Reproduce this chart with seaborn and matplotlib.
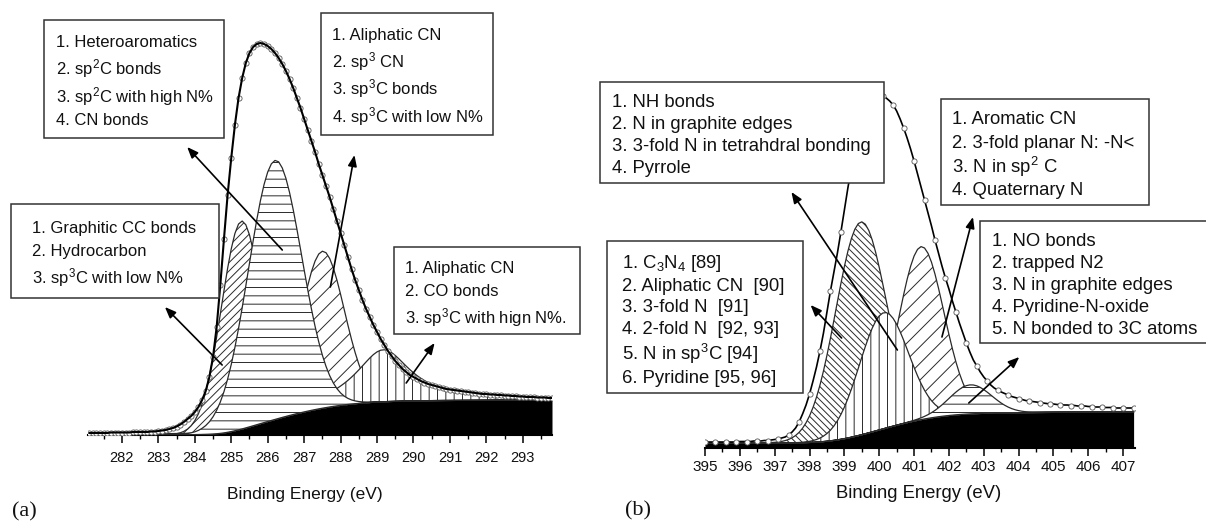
import numpy as np
import pandas as pd
import matplotlib
matplotlib.use("Agg")
import matplotlib.pyplot as plt
from matplotlib.patches import Rectangle
from matplotlib.ticker import MultipleLocator
import seaborn as sns

W, H = 1206, 522

sns.set_theme(style="white")
SANS = "Liberation Sans"
SERIF = "Liberation Serif"
plt.rcParams["font.family"] = [SANS, "DejaVu Sans"]
plt.rcParams["mathtext.default"] = "regular"
plt.rcParams["hatch.linewidth"] = 0.7
plt.rcParams["hatch.color"] = "#333333"

# ---------------- (a) C 1s spectrum ----------------
be_a = np.round(np.arange(281.1, 293.85, 0.1), 1)
counts_a = [
    2.0, 2.0, 2.0, 2.0, 2.0, 2.0, 2.5, 2.5, 2.5,
    2.5, 2.5, 2.5, 3.0, 3.0, 3.0, 3.0, 3.0, 3.5, 3.5,
    4.0, 4.5, 5.0, 6.0, 7.0, 8.5, 10.5, 13, 16, 19,
    23, 28, 35, 44, 58, 78, 108, 150, 196, 240,
    277, 310, 337, 357, 372, 382, 388, 391, 392, 391,
    389, 386, 382, 377, 371, 364, 356, 347, 337, 327,
    316, 305, 294, 283, 271, 260, 249, 238, 226, 214,
    202, 190, 178, 166, 155, 145, 135, 126, 118, 110,
    103, 96, 90, 84, 79, 74, 70, 66, 63, 60,
    58, 56, 54, 52.5, 51, 50, 49, 48, 47, 46,
    45.5, 45, 44.5, 44, 43.5, 43, 42.5, 42, 41.5, 41,
    41, 40.5, 40.5, 40, 40, 39.5, 39.5, 39, 39, 38.5,
    38.5, 38, 38, 38, 37.5, 37.5, 37.5, 37, 37,
]
bg_ends_a = (0.0, 35.0)
# fitted components: graphitic CC, main C-N/sp2, sp3 shoulder, high-BE tail
centers_a = [285.28, 286.20, 287.50, 289.17]
heights_a = [208, 259, 157, 52]
widths_a = [0.55, 0.73, 0.60, 0.90]
shapes_a = ["gauss", "gauss", "gauss", "lorentz"]
hatches_a = ["////", "--", "//", "||"]
order_a = [2, 0, 3, 1]

# ---------------- (b) N 1s spectrum ----------------
be_b = np.round(np.arange(395.0, 407.35, 0.1), 1)
counts_b = [
    6, 6, 6, 6, 6, 6, 6, 6, 6, 6,
    6.5, 6.5, 6.5, 6.5, 7, 7, 7, 7.5, 7.5, 8,
    8.5, 9, 10, 11, 13, 16, 20, 26, 34, 43,
    54, 67, 81, 97, 115, 136, 157, 176, 195, 216,
    238, 260, 280, 298, 313, 326, 336, 343, 348, 351,
    352, 352, 350, 347, 343, 337, 329, 320, 310, 299,
    287, 274, 261, 248, 235, 222, 208, 195, 182, 170,
    159, 147, 136, 125, 115, 105, 96, 88, 82, 76,
    71, 67, 63, 60, 58, 56, 54.5, 53, 51.5, 50.5,
    49.5, 48.5, 47.5, 47, 46.5, 46, 45.5, 45, 44.5, 44,
    44, 43.5, 43.5, 43, 43, 42.5, 42.5, 42, 42, 42,
    41.5, 41.5, 41, 41, 41, 40.5, 40.5, 40.5, 40, 40,
    40, 40, 40, 40,
]
bg_ends_b = (5.0, 36.0)
centers_b = [399.47, 400.13, 401.20, 402.62]
heights_b = [213, 116, 173, 29]
widths_b = [0.72, 0.70, 0.65, 0.60]
shapes_b = ["gauss", "gauss", "gauss", "gauss"]
hatches_b = ["\\\\\\\\\\", "||", "//", "--"]
order_b = [0, 2, 1, 3]


def shirley(y, lo, hi, n_iter=40):
    """Iterative Shirley background between fixed end levels."""
    y = np.asarray(y, float)
    bg = np.full_like(y, lo)
    for _ in range(n_iter):
        net = np.clip(y - bg, 0, None)
        cum = np.concatenate([[0.0], np.cumsum(0.5 * (net[1:] + net[:-1]))])
        bg = lo + (hi - lo) * cum / cum[-1]
    return bg


def profile(e, c, h, w, shape):
    if shape == "lorentz":
        return h / (1.0 + ((e - c) / w) ** 2)
    return h * np.exp(-0.5 * ((e - c) / w) ** 2)


fig = plt.figure(figsize=(W / 100, H / 100), dpi=100)
fig.patch.set_facecolor("white")


def fx(x):
    return x / W


def fy(y):
    return 1 - y / H


ax_a = fig.add_axes([fx(88), fy(435), (552 - 88) / W, (435 - 5) / H])
ax_b = fig.add_axes([fx(705), fy(448), (1135 - 705) / W, (448 - 5) / H])


def draw_spectrum(ax, be, counts, bg_ends, centers, heights, widths, shapes,
                  hatches, order, line_w, dot_size, dot_step, dots_on_top):
    counts = np.asarray(counts, float)
    bg = shirley(counts, *bg_ends)
    ax.fill_between(be, 0, bg, color="black", lw=0, zorder=1)
    for k, i in enumerate(order):
        comp = profile(be, centers[i], heights[i], widths[i], shapes[i])
        ax.fill_between(be, bg, bg + comp, facecolor="white", edgecolor="#2a2a2a",
                        hatch=hatches[i], lw=0.9, zorder=2 + k)
    df = pd.DataFrame({"be": be, "counts": counts})
    sns.lineplot(data=df, x="be", y="counts", ax=ax, color="black", lw=line_w,
                 zorder=8, estimator=None, sort=True)
    sns.scatterplot(data=df.iloc[::dot_step], x="be", y="counts", ax=ax, s=dot_size,
                    marker="o", color="white", edgecolor="#555555", linewidth=0.6,
                    zorder=9 if dots_on_top else 7)


draw_spectrum(ax_a, be_a, counts_a, bg_ends_a, centers_a, heights_a, widths_a,
              shapes_a, hatches_a, order_a, 1.5, 14, 1, False)
draw_spectrum(ax_b, be_b, counts_b, bg_ends_b, centers_b, heights_b, widths_b,
              shapes_b, hatches_b, order_b, 1.2, 14, 3, True)

ax_a.set_xlim(281.07, 293.8)
ax_a.set_ylim(0, 430)
ax_b.set_xlim(395.0, 407.34)
ax_b.set_ylim(0, 443)

for ax, size, pad in ((ax_a, 10.5, 5.5), (ax_b, 11, 2.5)):
    ax.set_facecolor("none")
    for side in ("left", "right", "top"):
        ax.spines[side].set_visible(False)
    ax.spines["bottom"].set_linewidth(1.5)
    ax.spines["bottom"].set_color("black")
    ax.set_yticks([])
    ax.set_ylabel("")
    ax.xaxis.set_major_locator(MultipleLocator(1))
    ax.xaxis.set_minor_locator(MultipleLocator(0.5))
    ax.tick_params(axis="x", which="major", bottom=True, direction="out", length=5.8,
                   width=1.1, color="black", pad=pad, labelsize=size,
                   labelcolor="#111111")
    ax.tick_params(axis="x", which="minor", bottom=True, direction="out", length=3.2,
                   width=1.0, color="black")

ax_a.set_xlabel("Binding Energy (eV)", fontsize=12.5, color="#111111")
ax_a.xaxis.set_label_coords((305 - 88) / 464, -(487 - 435) / 430)
ax_b.set_xlabel("Binding Energy (eV)", fontsize=13.3, color="#111111")
ax_b.xaxis.set_label_coords((919 - 705) / 430, -(485 - 448) / 443)

# arrows from the fitted peaks to their assignment boxes
arrow_style = dict(arrowstyle="-|>,head_length=0.55,head_width=0.22", color="black",
                   lw=1.2, shrinkA=0, shrinkB=0, mutation_scale=12)
for ax, head, tail in (
    (ax_a, (283.79, 288), (286.40, 185)),
    (ax_a, (288.38, 280), (287.72, 148)),
    (ax_a, (283.18, 128), (284.75, 70)),
    (ax_a, (290.58, 92), (289.80, 52)),
    (ax_b, (397.48, 256), (400.52, 98)),
    (ax_b, (402.69, 231), (401.80, 111)),
    (ax_b, (398.03, 143), (398.92, 110)),
    (ax_b, (404.02, 91), (402.57, 45)),
):
    ax.annotate("", xy=head, xytext=tail, arrowprops=arrow_style,
                annotation_clip=False, zorder=12)


def text_box(x0, y0, x1, y1, x_text, baselines, lines, size):
    fig.add_artist(Rectangle((fx(x0), fy(y1)), (x1 - x0) / W, (y1 - y0) / H,
                             transform=fig.transFigure, facecolor="white",
                             edgecolor="#333333", lw=1.1, zorder=20))
    for s, yb in zip(lines, baselines):
        fig.text(fx(x_text), fy(yb), s, ha="left", va="baseline", fontsize=size,
                 color="#111111", zorder=21)


text_box(44, 20, 224, 138, 56, [47, 74, 102, 125],
         ["1. Heteroaromatics", "2. sp$^{2}$C bonds",
          "3. sp$^{2}$C with high N%", "4. CN bonds"], 12)
text_box(321, 13, 493, 135, 332, [40, 67, 94, 122],
         ["1. Aliphatic CN", "2. sp$^{3}$ CN", "3. sp$^{3}$C bonds",
          "4. sp$^{3}$C with low N%"], 12)
text_box(11, 204, 219, 298, 32, [233, 256, 283],
         ["1. Graphitic CC bonds", "2. Hydrocarbon", "3. sp$^{3}$C with low N%"], 12)
text_box(394, 247, 580, 334, 405, [273, 296, 323],
         ["1. Aliphatic CN", "2. CO bonds", "3. sp$^{3}$C with hign N%."], 12)

text_box(600, 82, 884, 183, 612, [107, 129, 151, 173],
         ["1. NH bonds", "2. N in graphite edges",
          "3. 3-fold N in tetrahdral bonding", "4. Pyrrole"], 13.3)
text_box(941, 99, 1149, 205, 952, [124, 148, 173, 195],
         ["1. Aromatic CN", "2. 3-fold planar N: -N<", "3. N in sp$^{2}$ C",
          "4. Quaternary N"], 13.3)
text_box(607, 241, 803, 393, 622, [268, 291, 312, 334, 360, 383],
         ["1. C$_{3}$N$_{4}$ [89]", "2. Aliphatic CN  [90]", "3. 3-fold N  [91]",
          "4. 2-fold N  [92, 93]", "5. N in sp$^{3}$C [94]", "6. Pyridine [95, 96]"],
         13.3)
text_box(980, 221, 1212, 343, 992, [246, 268, 290, 312, 334],
         ["1. NO bonds", "2. trapped N2", "3. N in graphite edges",
          "4. Pyridine-N-oxide", "5. N bonded to 3C atoms"], 13.3)

fig.text(fx(24), fy(512), "(a)", ha="center", va="center", family=SERIF, fontsize=16,
         color="#111111")
fig.text(fx(638), fy(511), "(b)", ha="center", va="center", family=SERIF, fontsize=16,
         color="#111111")

fig.savefig("out.png", dpi=100, facecolor="white")
